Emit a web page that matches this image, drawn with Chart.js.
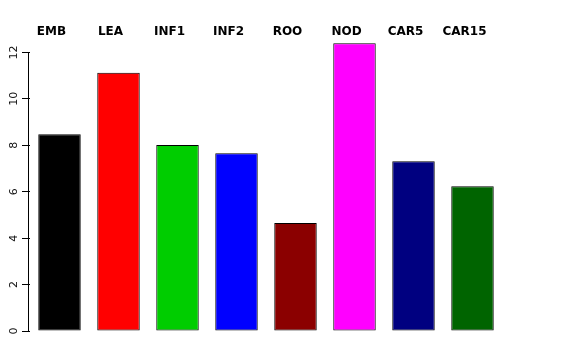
<!DOCTYPE html>
<html>
<head>
<meta charset="utf-8">
<script src="https://cdn.jsdelivr.net/npm/chart.js@4"></script>
<style>
  html, body { margin: 0; padding: 0; background: #fff; }
  #wrap { width: 576px; height: 360px; }
</style>
</head>
<body>
<div id="wrap"><canvas id="barChart"></canvas></div>
<script>
const categories = ['EMB', 'LEA', 'INF1', 'INF2', 'ROO', 'NOD', 'CAR5', 'CAR15'];
const values = [8.47, 11.12, 8.01, 7.66, 4.65, 12.39, 7.31, 6.24];
const barColors = ['#000000', '#ff0000', '#00cd00', '#0000ff', '#8b0000', '#ff00ff', '#000080', '#006400'];
const yTicks = [0, 2, 4, 6, 8, 10, 12];

// R-style axis line: only spans the first to last tick
const axisLine = {
    id: 'axisLine',
    afterDraw(chart) {
        const y = chart.scales.y;
        const ctx = chart.ctx;
        const x = chart.chartArea.left - 1.5;
        ctx.save();
        ctx.strokeStyle = '#000';
        ctx.lineWidth = 1;
        ctx.beginPath();
        ctx.moveTo(x, Math.round(y.getPixelForValue(yTicks[0])) + 0.5);
        ctx.lineTo(x, Math.round(y.getPixelForValue(yTicks[yTicks.length - 1])) + 0.5);
        ctx.stroke();
        ctx.restore();
    }
};

new Chart(document.getElementById('barChart'), {
    type: 'bar',
    data: {
        labels: categories,
        datasets: [{
            data: values,
            backgroundColor: barColors,
            borderColor: '#000',
            borderWidth: 1,
            borderSkipped: false,
            barPercentage: 0.72,
            categoryPercentage: 1
        }]
    },
    options: {
        responsive: true,
        maintainAspectRatio: false,
        animation: false,
        layout: { padding: { left: 0, right: 74, top: 0, bottom: 29 } },
        plugins: { legend: { display: false }, tooltip: { enabled: false } },
        scales: {
            x: {
                position: 'top',
                grid: { display: false, drawTicks: false },
                border: { display: false },
                ticks: {
                    color: '#000',
                    padding: -1,
                    labelOffset: -8,
                    maxRotation: 0,
                    font: { family: 'DejaVu Sans', size: 12, weight: 'bold' }
                },
                afterFit(scale) { scale.height = 38; }
            },
            y: {
                min: 0,
                max: 12.62,
                grid: { drawOnChartArea: false, drawTicks: true, tickLength: 8, color: '#000' },
                border: { display: false },
                afterBuildTicks(scale) { scale.ticks = yTicks.map(v => ({ value: v })); },
                ticks: {
                    color: '#111',
                    padding: 1,
                    minRotation: 90,
                    maxRotation: 90,
                    crossAlign: 'center',
                    font: { family: 'DejaVu Sans', size: 11 }
                },
                afterFit(scale) { scale.width = 30; }
            }
        }
    },
    plugins: [axisLine]
});
</script>
</body>
</html>
